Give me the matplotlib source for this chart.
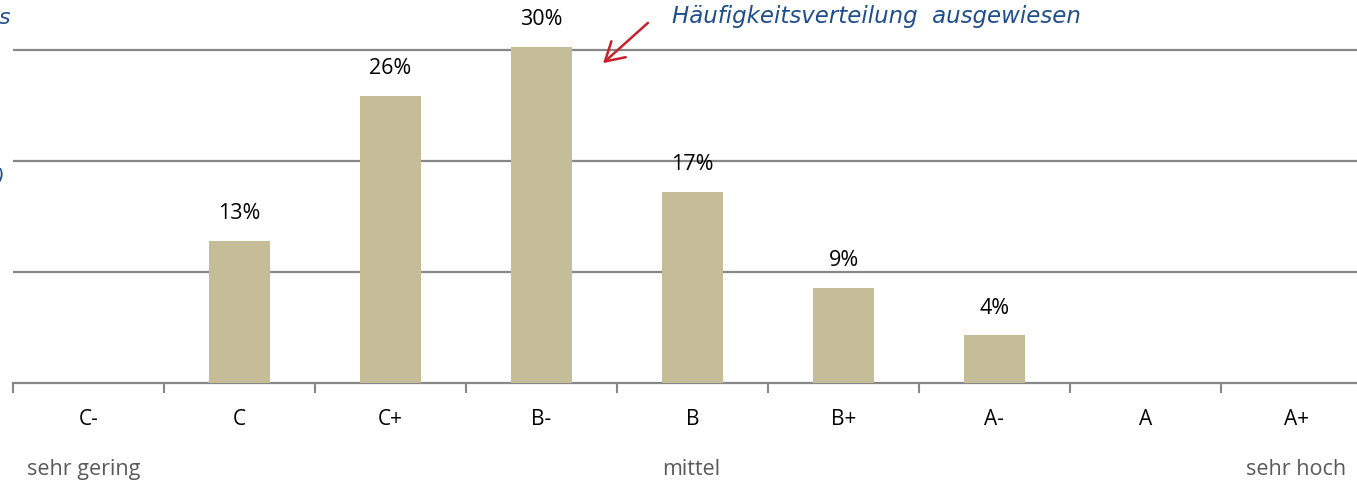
import matplotlib
matplotlib.use("Agg")
import matplotlib.pyplot as plt
import numpy as np

categories = ["C-", "C", "C+", "B-", "B", "B+", "A-", "A", "A+"]
values = [0, 12.8, 25.9, 30.3, 17.2, 8.6, 4.3, 0, 0]
labels = ["", "13%", "26%", "30%", "17%", "9%", "4%", "", ""]
scale_labels = ["sehr gering", "mittel", "sehr hoch"]
gridlevels = [10, 20, 30]

W, H = 1357, 485
fig = plt.figure(figsize=(W/100, H/100), dpi=100)
ax = fig.add_axes([13/W, (H-384)/H, 151*9/W, 384/H])
ax.set_xlim(-0.5, 8.5)
ax.set_ylim(0, 384/11.1)

x = np.arange(len(categories))
ax.bar(x, values, width=0.41, color="#C4BD97", zorder=3)
for gl in gridlevels:
    ax.axhline(gl, color="#878787", lw=1.6, zorder=1)
for xi, v, lab in zip(x, values, labels):
    if lab:
        ax.text(xi, v + 1.6, lab, ha="center", va="bottom", fontsize=15.5,
                family="Open Sans", color="#000000")

for s in ["top", "right", "left"]:
    ax.spines[s].set_visible(False)
ax.spines["bottom"].set_color("#878787")
ax.spines["bottom"].set_linewidth(1.6)
ax.set_yticks([])
ax.set_xticks(x)
ax.set_xticklabels(categories, fontsize=15, family="Open Sans", color="#000000")
ax.tick_params(axis="x", which="major", length=0, pad=18)
ax.set_xticks(np.arange(-0.5, 9, 1), minor=True)
ax.tick_params(axis="x", which="minor", length=7, width=1.5, color="#878787", direction="out")

# scale labels
fig.text(27/W, 1-470/H, scale_labels[0], ha="left", va="center", fontsize=15.5,
         family="Open Sans", color="#595959")
fig.text(691/W, 1-470/H, scale_labels[1], ha="center", va="center", fontsize=15.5,
         family="Open Sans", color="#595959")
fig.text(1346/W, 1-470/H, scale_labels[2], ha="right", va="center", fontsize=15.5,
         family="Open Sans", color="#595959")

# annotation
fig.text(672/W, 1-17/H, "Häufigkeitsverteilung  ausgewiesen", ha="left", va="center",
         fontsize=16.5, style="italic", family="DejaVu Sans", color="#1F4E8C")
ax.annotate("", xy=(601/W, 1-66/H), xytext=(650/W, 1-22/H),
            xycoords="figure fraction", textcoords="figure fraction",
            arrowprops=dict(arrowstyle="->,head_length=0.6,head_width=0.35",
                            color="#C8202E", lw=1.8, mutation_scale=22))
fig.text(10/W, 1-18/H, "s", ha="right", va="center", fontsize=16, style="italic",
         family="DejaVu Sans", color="#1F4E8C")
fig.text(4/W, 1-177/H, ")", ha="right", va="center", fontsize=14, style="italic",
         family="DejaVu Sans", color="#1F4E8C")

fig.savefig("out.png", dpi=100)
